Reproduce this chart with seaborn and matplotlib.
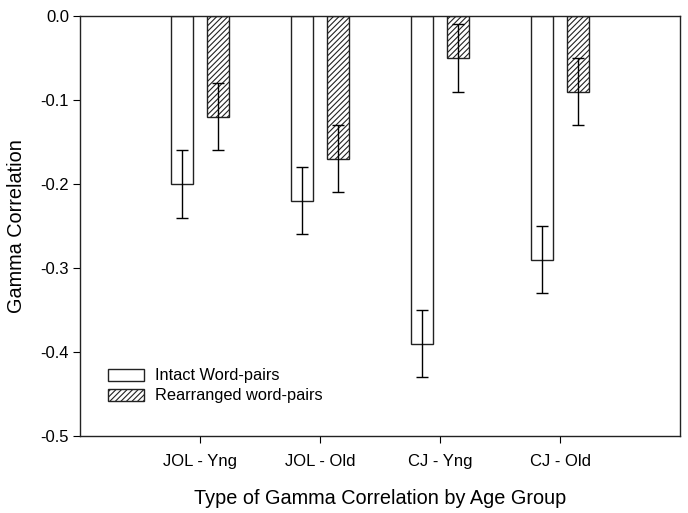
import seaborn as sns
import matplotlib.pyplot as plt
import pandas as pd

# data
groups = ["JOL - Yng", "JOL - Old", "CJ - Yng", "CJ - Old"]
conditions = ["Intact Word-pairs", "Rearranged word-pairs"]
intact = [-0.20, -0.22, -0.39, -0.29]
rearranged = [-0.12, -0.17, -0.05, -0.09]
intact_err = [0.04, 0.04, 0.04, 0.04]
rearranged_err = [0.04, 0.04, 0.04, 0.04]

sns.set_theme(style="ticks")
plt.rcParams['font.family'] = ['Liberation Sans', 'DejaVu Sans']
plt.rcParams['text.color'] = 'black'
plt.rcParams['axes.labelcolor'] = 'black'
plt.rcParams['hatch.color'] = '#333333'
plt.rcParams['hatch.linewidth'] = 0.8

df = pd.DataFrame({
    "group": groups * 2,
    "condition": [conditions[0]] * 4 + [conditions[1]] * 4,
    "gamma": intact + rearranged,
})

fig = plt.figure(figsize=(6.88, 5.13), dpi=100)
ax = fig.add_axes([80 / 688, 1 - 436 / 513, 600 / 688, 420 / 513])

sns.barplot(data=df, x="group", y="gamma", hue="condition", order=groups,
            hue_order=conditions, errorbar=None, width=0.6, gap=0.4,
            palette=["white", "white"], edgecolor="#222222", linewidth=1.0,
            ax=ax)

# hatch the second series and add error bars
bar_conts = list(ax.containers)
series = [(intact, intact_err), (rearranged, rearranged_err)]
for k, cont in enumerate(bar_conts):
    xs = []
    for bar in cont:
        if k == 1:
            bar.set_hatch("//////")
        xs.append(bar.get_x() + bar.get_width() / 2)
    vals, err = series[k]
    ax.errorbar(xs, vals, yerr=err, fmt="none", ecolor="black",
                elinewidth=1.0, capsize=4.5, capthick=1.0)

ax.set_xlim(-1, 4)
ax.set_ylim(-0.5, 0.0)
ax.set_yticks([0.0, -0.1, -0.2, -0.3, -0.4, -0.5])
ax.set_yticklabels(["0.0", "-0.1", "-0.2", "-0.3", "-0.4", "-0.5"])
ax.tick_params(axis="both", labelsize=12, length=5, width=0.8,
               colors="black", direction="out")
ax.tick_params(axis="x", pad=8)
ax.tick_params(axis="y", pad=3)
for s in ax.spines.values():
    s.set_linewidth(1.0)
    s.set_color("#222222")
    s.set_visible(True)

ax.set_xlabel("Type of Gamma Correlation by Age Group", fontsize=14.3, labelpad=14)
ax.set_ylabel("Gamma Correlation", fontsize=14.3, labelpad=10)

handles, labels = ax.get_legend_handles_labels()
handles[1].set_hatch("//////")
ax.legend(handles, labels, loc="lower left", bbox_to_anchor=(0.035, 0.062),
          frameon=False, fontsize=11.8, handlelength=2.25, handleheight=0.75,
          handletextpad=0.67, labelspacing=0.3, borderaxespad=0)

fig.savefig("out.png", dpi=100)
